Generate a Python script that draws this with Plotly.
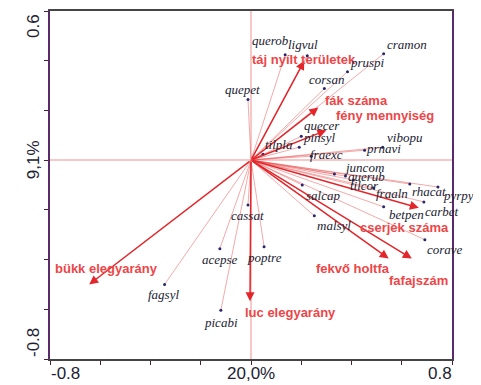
import plotly.graph_objects as go

# ---- data ----
species = ["querob", "ligvul", "cramon", "pruspi", "corsan", "quepet", "quecer", "pinsyl",
           "tilpla", "fraexc", "prnavi", "vibopu", "juncom", "querub", "tilcor", "fraaln",
           "rhacat", "pyrpyr", "salcap", "carbet", "betpen", "malsyl", "corave", "cassat",
           "acepse", "poptre", "fagsyl", "picabi"]
sp_x = [0.136, 0.224, 0.528, 0.384, 0.292, -0.012, 0.200, 0.192,
        0.048, 0.240, 0.452, 0.524, 0.332, 0.376, 0.408, 0.488,
        0.632, 0.744, 0.204, 0.688, 0.528, 0.252, 0.692, -0.012,
        -0.124, 0.052, -0.344, -0.120]
sp_y = [0.424, 0.420, 0.428, 0.356, 0.288, 0.244, 0.096, 0.052,
        0.024, 0.016, 0.040, 0.052, -0.056, -0.064, -0.080, -0.112,
        -0.096, -0.108, -0.100, -0.168, -0.188, -0.224, -0.320, -0.180,
        -0.356, -0.348, -0.500, -0.604]

env = ["táj nyílt területek", "fák száma", "fény mennyiség", "cserjék száma",
       "fekvő holtfa", "fafajszám", "bükk elegyarány", "luc elegyarány"]
env_x = [0.212, 0.268, 0.300, 0.668, 0.548, 0.640, -0.644, -0.004]
env_y = [0.400, 0.212, 0.120, -0.192, -0.396, -0.396, -0.500, -0.568]

x_ticks = [-0.8, -0.6, -0.4, -0.2, 0.0, 0.2, 0.4, 0.6, 0.8]
y_ticks = [-0.8, -0.6, -0.4, -0.2, 0.0, 0.2, 0.4, 0.6]
x_axis_labels = {-0.8: "-0.8", 0.0: "20,0%", 0.8: "0.8"}
y_axis_labels = {0.6: "0.6", 0.0: "9,1%", -0.8: "-0.8"}

# ---- styling: label pixel offsets (dx right, dy down) ----
sp_off = {
    "querob": (-15, -14), "ligvul": (-4, -11), "cramon": (23, -9), "pruspi": (20, -9),
    "corsan": (2, -9), "quepet": (-5, -10), "quecer": (21, -11), "pinsyl": (20, -10),
    "tilpla": (16, -10), "fraexc": (15, -2), "prnavi": (19, -2), "vibopu": (22, -10),
    "juncom": (30, -7), "querub": (21, 0), "tilcor": (11, 5), "fraaln": (18, 6),
    "rhacat": (19, 7), "pyrpyr": (24, 9), "salcap": (21, 10), "carbet": (18, 10),
    "betpen": (23, 8), "malsyl": (20, 10), "corave": (20, 10), "cassat": (0, 11),
    "acepse": (0, 11), "poptre": (0, 11), "fagsyl": (-1, 10), "picabi": (0, 12),
}
env_off = {
    "táj nyílt területek": (0, -1), "fák száma": (38, -7), "fény mennyiség": (59, -15),
    "cserjék száma": (-14, 20), "fekvő holtfa": (-36, 10), "fafajszám": (7, 22),
    "bükk elegyarány": (17, -16), "luc elegyarány": (40, 11),
}

SP_LINE = "rgba(232,80,80,0.55)"
SP_DOT = "#26266e"
ENV_COL = "#e3262b"
ENV_TXT = "#ec4648"
TXT = "#222233"

fig = go.Figure()

# species lines from origin
lx, ly = [], []
for x, y in zip(sp_x, sp_y):
    lx += [0, x, None]
    ly += [0, y, None]
fig.add_trace(go.Scatter(x=lx, y=ly, mode="lines",
                         line=dict(color=SP_LINE, width=0.9),
                         hoverinfo="skip", showlegend=False, cliponaxis=False))
fig.add_trace(go.Scatter(x=sp_x, y=sp_y, mode="markers", text=species,
                         marker=dict(color=SP_DOT, size=3),
                         showlegend=False))

annotations = []
# environmental arrows
for name, x, y in zip(env, env_x, env_y):
    annotations.append(dict(x=x, y=y, ax=0, ay=0, xref="x", yref="y",
                            axref="x", ayref="y", showarrow=True, text="",
                            arrowhead=2, arrowsize=1.2, arrowwidth=1.5,
                            arrowcolor=ENV_COL))
for name, x, y in zip(env, env_x, env_y):
    dx, dy = env_off[name]
    annotations.append(dict(x=x, y=y, xref="x", yref="y", text="<b>%s</b>" % name,
                            showarrow=False, xshift=dx, yshift=-dy,
                            font=dict(family="Liberation Sans, Arial", size=13,
                                      color=ENV_TXT)))
for name, x, y in zip(species, sp_x, sp_y):
    dx, dy = sp_off[name]
    annotations.append(dict(x=x, y=y, xref="x", yref="y", text="<i>%s</i>" % name,
                            showarrow=False, xshift=dx, yshift=-dy,
                            font=dict(family="Liberation Serif, Times New Roman",
                                      size=13, color=TXT)))

# axis labels as annotations
x_shift = {-0.8: 15, 0.0: 0, 0.8: -12}
for v, t in x_axis_labels.items():
    annotations.append(dict(x=v, y=0, xref="x", yref="paper", text=t, showarrow=False,
                            xshift=x_shift[v], yshift=-14, yanchor="middle",
                            font=dict(family="Liberation Sans, Arial", size=17, color=TXT)))
y_shift = {0.6: -15, 0.0: 0, -0.8: 16}
for v, t in y_axis_labels.items():
    annotations.append(dict(x=0, y=v, xref="paper", yref="y", text=t, showarrow=False,
                            xshift=-17, yshift=y_shift[v], textangle=-90,
                            xanchor="center", yanchor="middle",
                            font=dict(family="Liberation Sans, Arial", size=17, color=TXT)))

# page body adds an 8px offset; figure sized to fill the remaining window
fig.update_layout(
    width=473, height=377,
    margin=dict(l=42, r=29, t=1, b=26),
    paper_bgcolor="white", plot_bgcolor="white",
    annotations=annotations,
    xaxis=dict(range=[-0.8, 0.8], tickvals=x_ticks, showticklabels=False,
               ticks="outside", ticklen=4, tickcolor="#4a2030",
               showgrid=False, zeroline=True, zerolinecolor="#f6c8c8", zerolinewidth=1.5,
               showline=True, linecolor="#444444", linewidth=2, mirror=True),
    yaxis=dict(range=[-0.8, 0.6], tickvals=y_ticks, showticklabels=False,
               ticks="outside", ticklen=4, tickcolor="#4a2030",
               showgrid=False, zeroline=True, zerolinecolor="#f6c8c8", zerolinewidth=1.5,
               showline=True, linecolor="#5a2a6a", linewidth=2, mirror=True),
)

fig.write_html("out.html")
